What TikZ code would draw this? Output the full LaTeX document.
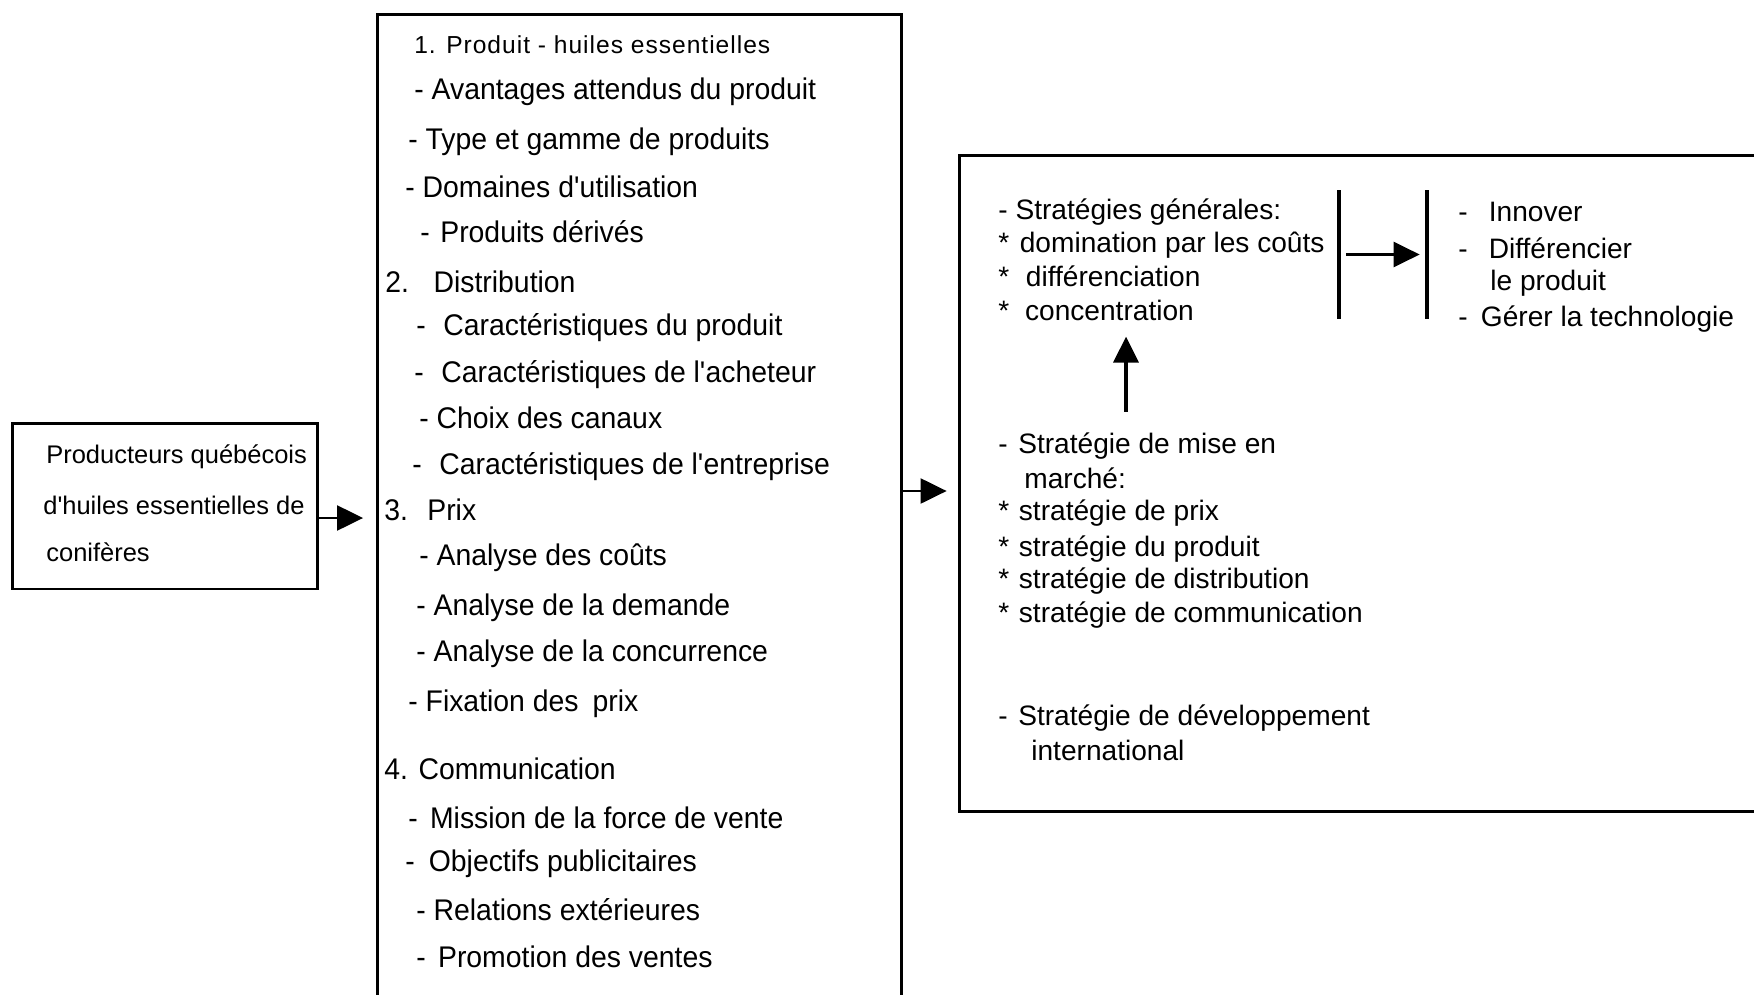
\documentclass[tikz,border=0pt]{standalone}
\usepackage{fontspec}
\setmainfont{Liberation Sans}
\newfontfamily\milieufont[FakeStretch=0.95]{Liberation Sans}
\newfontfamily\titrefont[LetterSpace=4]{Liberation Sans}
\usetikzlibrary{arrows.meta}
\newcommand{\ligne}[5]{
\node[#1] (#2) at (#3,#4) {#5};}
\newcommand{\apo}{\textquotesingle}

\tikzset{
boite/.style={draw, line width=1.7pt, inner sep=0pt},
fleche/.style={line width=1.3pt, -{Triangle[length=0.52cm,width=0.5cm]}},
barre/.style={fill=black, inner sep=0pt, minimum width=0.08cm, minimum height=2.58cm},
txtM/.style={anchor=base west, inner sep=0pt, font=\milieufont\fontsize{17}{20}\selectfont},
txtT/.style={anchor=base west, inner sep=0pt, font=\titrefont\fontsize{14}{17}\selectfont},
txtD/.style={anchor=base west, inner sep=0pt, font=\fontsize{16}{19}\selectfont},
txtG/.style={anchor=base west, inner sep=0pt, font=\fontsize{14.5}{17}\selectfont}
}

\begin{document}
\begin{tikzpicture}[x=0.02cm,y=-0.02cm]
\useasboundingbox (0,0) rectangle (1754,994);
\clip (0,0) rectangle (1754,994);

% les trois boites
\node[boite, minimum width=6.12cm, minimum height=3.32cm] (prod) at (165,506) {};
\node[boite, minimum width=10.5cm, minimum height=19.92cm] (mix) at (639.5,512) {};
\node[boite, minimum width=16.62cm, minimum height=13.14cm] (strat) at (1374.5,483.5) {};

% producteurs
\ligne{txtG}{p1}{46}{463}{Producteurs québécois}
\ligne{txtG}{p2}{43}{514}{d\apo huiles essentielles de}
\ligne{txtG}{p3}{46}{561}{conifères}

% marketing mix
\ligne{txtT}{a1}{414}{53}{1. Produit - huiles essentielles}
\ligne{txtM}{a2}{414}{99}{- Avantages attendus du produit}
\ligne{txtM}{a3}{408}{149}{- Type et gamme de produits}
\ligne{txtM}{a4}{405}{197}{- Domaines d\apo utilisation}
\ligne{txtM}{a5}{420}{242}{-\hspace{6pt}Produits dérivés}
\ligne{txtM}{a6}{385}{292}{2.\hspace{14pt}Distribution}
\ligne{txtM}{a7}{416}{335}{-\hspace{10pt}Caractéristiques du produit}
\ligne{txtM}{a8}{414}{382}{-\hspace{10pt}Caractéristiques de l\apo acheteur}
\ligne{txtM}{a9}{419}{428}{- Choix des canaux}
\ligne{txtM}{a10}{412}{474}{-\hspace{10pt}Caractéristiques de l\apo entreprise}
\ligne{txtM}{a11}{384}{520}{3.\hspace{11pt}Prix}
\ligne{txtM}{a12}{419}{565}{- Analyse des coûts}
\ligne{txtM}{a13}{416}{615}{- Analyse de la demande}
\ligne{txtM}{a14}{416}{661}{- Analyse de la concurrence}
\ligne{txtM}{a15}{408}{711}{- Fixation des\hspace{8pt}prix}
\ligne{txtM}{a16}{384}{779}{4. Communication}
\ligne{txtM}{a17}{408}{828}{-\hspace{7pt}Mission de la force de vente}
\ligne{txtM}{a18}{405}{871}{-\hspace{8pt}Objectifs publicitaires}
\ligne{txtM}{a19}{416}{920}{- Relations extérieures}
\ligne{txtM}{a20}{416}{967}{-\hspace{7pt}Promotion des ventes}

% strategies
\ligne{txtD}{g1}{998}{219}{- Stratégies générales:}
\ligne{txtD}{g2}{998}{252}{*\hspace{6pt}domination par les coûts}
\ligne{txtD}{g3}{998}{286}{*\hspace{9.5pt}différenciation}
\ligne{txtD}{g4}{998}{320}{*\hspace{9pt}concentration}
\ligne{txtD}{o1}{1458}{221}{-\hspace{12pt}Innover}
\ligne{txtD}{o2}{1458}{258}{-\hspace{12pt}Différencier}
\ligne{txtD}{o3}{1490}{290}{le produit}
\ligne{txtD}{o4}{1458}{326}{-\hspace{7.5pt}Gérer la technologie}
\ligne{txtD}{m1}{998}{453}{-\hspace{6pt}Stratégie de mise en}
\ligne{txtD}{m2}{1024}{488}{marché:}
\ligne{txtD}{m3}{998}{520}{*\hspace{5.5pt}stratégie de prix}
\ligne{txtD}{m4}{998}{556}{*\hspace{5.5pt}stratégie du produit}
\ligne{txtD}{m5}{998}{588}{*\hspace{5.5pt}stratégie de distribution}
\ligne{txtD}{m6}{998}{622}{*\hspace{5.5pt}stratégie de communication}
\ligne{txtD}{d1}{998}{725}{-\hspace{6pt}Stratégie de développement}
\ligne{txtD}{d2}{1031}{760}{international}

\node[barre] (b1) at (1339,254.5) {};
\node[barre] (b2) at (1427,254.5) {};

% fleches
\draw[fleche, shorten >=0.25cm] ([yshift=-0.24cm]prod.east) -- ([yshift=-0.24cm]prod.east -| mix.west);
\draw[fleche, shorten >=0.22cm] ([yshift=-0.15cm]strat.west -| mix.east) -- ([yshift=-0.15cm]strat.west);
\draw[fleche, shorten <=0.1cm, shorten >=0.1cm] (b1) -- (b2);
\coordinate (fx) at (1126,0);
\draw[fleche, line width=2pt, shorten <=0.4cm, shorten >=0.32cm] (m1.north -| fx) -- (g4.south -| fx);

\end{tikzpicture}
\end{document}
